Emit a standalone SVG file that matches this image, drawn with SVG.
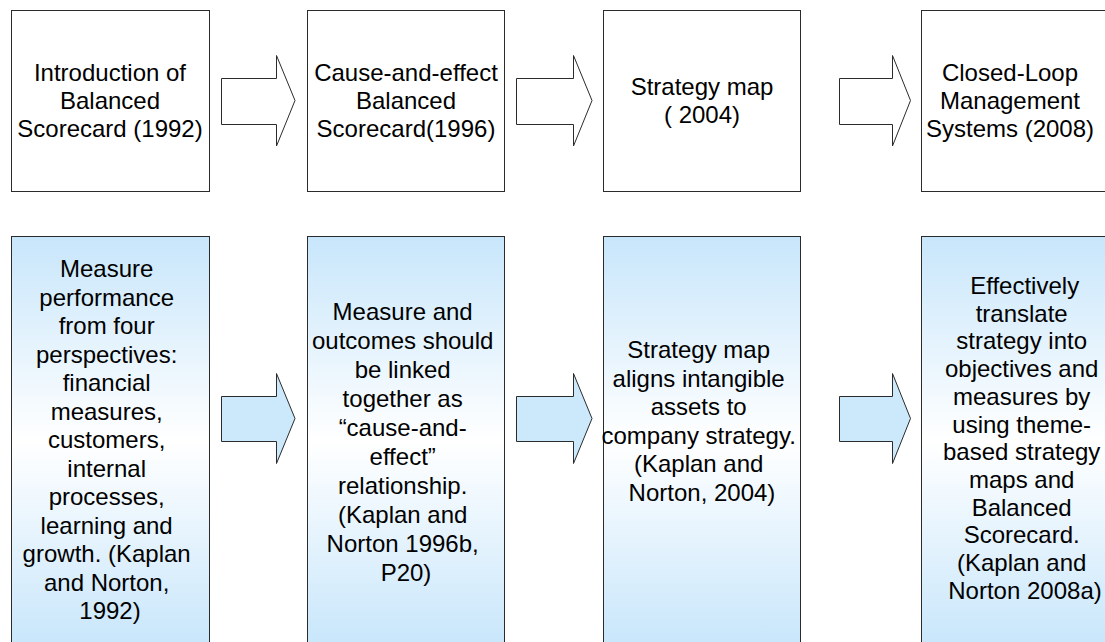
<svg xmlns="http://www.w3.org/2000/svg" width="1105" height="642" viewBox="0 0 1105 642">
  <style>
    .box { fill: #ffffff; stroke: #2b2b2b; stroke-width: 1; }
    .bbox { fill: url(#blueGrad); stroke: #2b2b2b; stroke-width: 1; }
    .arrow { fill: #ffffff; stroke: #2b2b2b; stroke-width: 1; }
    .barrow { fill: #cce9fb; stroke: #2b2b2b; stroke-width: 1; }
    text { font-family: "Liberation Sans", Arial, sans-serif; font-size: 24px; fill: #000000; text-anchor: middle; }
  </style>
  <defs>
    <linearGradient id="blueGrad" x1="0" y1="0" x2="0" y2="1">
      <stop offset="0" stop-color="#c8e6fb"/>
      <stop offset="0.5" stop-color="#ffffff"/>
      <stop offset="1" stop-color="#c8e6fb"/>
    </linearGradient>
  </defs>
  <rect width="1105" height="642" fill="#ffffff"/>

  <g id="top1">
    <rect class="box" x="11.5" y="10.5" width="198" height="181"/>
    <text><tspan x="110" y="81">Introduction of</tspan><tspan x="110" y="109">Balanced</tspan><tspan x="110" y="137">Scorecard (1992)</tspan></text>
  </g>
  <g id="top2">
    <rect class="box" x="307.5" y="10.5" width="197" height="181"/>
    <text><tspan x="406" y="81">Cause-and-effect</tspan><tspan x="406" y="109">Balanced</tspan><tspan x="406" y="137">Scorecard(1996)</tspan></text>
  </g>
  <g id="top3">
    <rect class="box" x="603.5" y="10.5" width="197" height="181"/>
    <text><tspan x="702" y="95">Strategy map</tspan><tspan x="702" y="123">( 2004)</tspan></text>
  </g>
  <g id="top4">
    <rect class="box" x="921.5" y="10.5" width="198" height="181"/>
    <text><tspan x="1010" y="81">Closed-Loop</tspan><tspan x="1010" y="109">Management</tspan><tspan x="1010" y="137">Systems (2008)</tspan></text>
  </g>

  <g id="bottom1">
    <rect class="bbox" x="11.5" y="236.5" width="198" height="410"/>
    <text>
      <tspan x="110" y="277">Measure</tspan>
      <tspan x="110" y="305.5">performance</tspan>
      <tspan x="110" y="334">from four</tspan>
      <tspan x="110" y="362.5">perspectives:</tspan>
      <tspan x="110" y="391">financial</tspan>
      <tspan x="110" y="419.5">measures,</tspan>
      <tspan x="110" y="448">customers,</tspan>
      <tspan x="110" y="476.5">internal</tspan>
      <tspan x="110" y="505">processes,</tspan>
      <tspan x="110" y="533.5">learning and</tspan>
      <tspan x="110" y="562">growth. (Kaplan</tspan>
      <tspan x="110" y="590.5">and Norton,</tspan>
      <tspan x="110" y="619">1992)</tspan>
    </text>
  </g>
  <g id="bottom2">
    <rect class="bbox" x="307.5" y="236.5" width="197" height="410"/>
    <text>
      <tspan x="406" y="320">Measure and</tspan>
      <tspan x="406" y="349">outcomes should</tspan>
      <tspan x="406" y="378">be linked</tspan>
      <tspan x="406" y="407">together as</tspan>
      <tspan x="406" y="436">“cause-and-</tspan>
      <tspan x="406" y="465">effect”</tspan>
      <tspan x="406" y="494">relationship.</tspan>
      <tspan x="406" y="523">(Kaplan and</tspan>
      <tspan x="406" y="552">Norton 1996b,</tspan>
      <tspan x="406" y="581">P20)</tspan>
    </text>
  </g>
  <g id="bottom3">
    <rect class="bbox" x="603.5" y="236.5" width="197" height="410"/>
    <text>
      <tspan x="702" y="358">Strategy map</tspan>
      <tspan x="702" y="386.5">aligns intangible</tspan>
      <tspan x="702" y="415">assets to</tspan>
      <tspan x="702" y="443.5">company strategy.</tspan>
      <tspan x="702" y="472">(Kaplan and</tspan>
      <tspan x="702" y="500.5">Norton, 2004)</tspan>
    </text>
  </g>
  <g id="bottom4">
    <rect class="bbox" x="921.5" y="236.5" width="198" height="410"/>
    <text>
      <tspan x="1028" y="294">Effectively</tspan>
      <tspan x="1025" y="321.7">translate</tspan>
      <tspan x="1025" y="349.4">strategy into</tspan>
      <tspan x="1025" y="377.1">objectives and</tspan>
      <tspan x="1025" y="404.8">measures by</tspan>
      <tspan x="1025" y="432.5">using theme-</tspan>
      <tspan x="1025" y="460.2">based strategy</tspan>
      <tspan x="1025" y="487.9">maps and</tspan>
      <tspan x="1025" y="515.6">Balanced</tspan>
      <tspan x="1025" y="543.3">Scorecard.</tspan>
      <tspan x="1025" y="571">(Kaplan and</tspan>
      <tspan x="1025" y="598.7">Norton 2008a)</tspan>
    </text>
  </g>

  <g id="connectors">
    <polygon class="arrow" points="221.5,78.5 276.5,78.5 276.5,55.5 295,100.5 276.5,146 276.5,124.5 221.5,124.5"/>
    <polygon class="arrow" points="516.5,78.5 573.5,78.5 573.5,55.5 592,100.5 573.5,146 573.5,124.5 516.5,124.5"/>
    <polygon class="arrow" points="839.5,78.5 892.5,78.5 892.5,55.5 910.5,100.5 892.5,146 892.5,124.5 839.5,124.5"/>
    <polygon class="barrow" points="221.5,396.5 276.5,396.5 276.5,373.5 295,418.5 276.5,463.5 276.5,441.5 221.5,441.5"/>
    <polygon class="barrow" points="516.5,396.5 573.5,396.5 573.5,373.5 592,418.5 573.5,463.5 573.5,441.5 516.5,441.5"/>
    <polygon class="barrow" points="839.5,396.5 892.5,396.5 892.5,373.5 910.5,418.5 892.5,463.5 892.5,441.5 839.5,441.5"/>
  </g>
</svg>
